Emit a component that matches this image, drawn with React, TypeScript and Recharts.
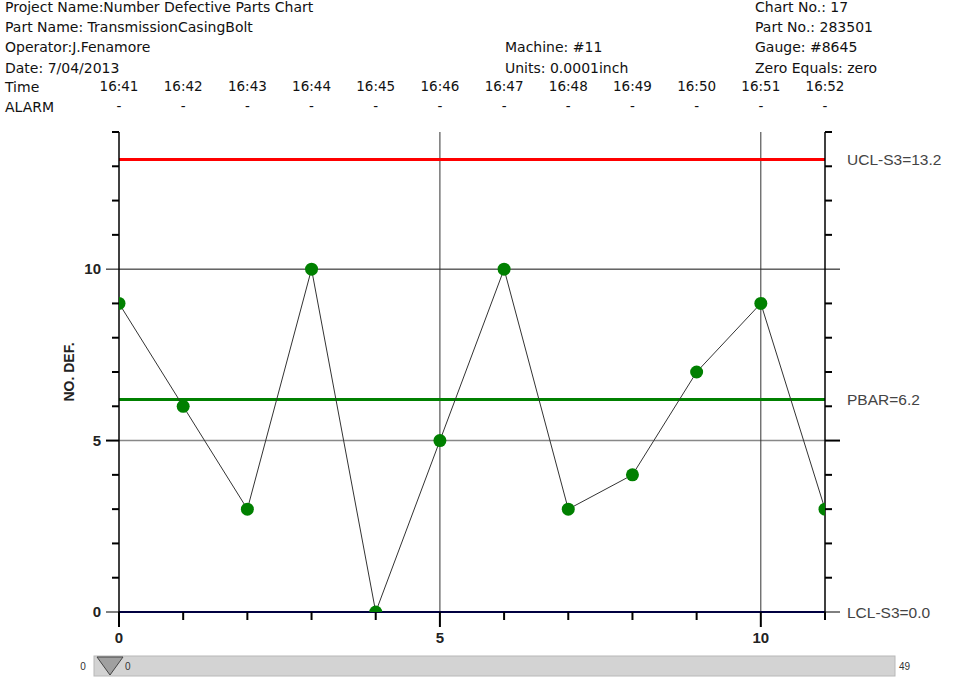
import React from 'react';
import { ComposedChart, Line, XAxis, YAxis, ReferenceLine } from 'recharts';

// sample number vs. number of defective parts
const sampleIndex = [0, 1, 2, 3, 4, 5, 6, 7, 8, 9, 10, 11];
const defectives = [9, 6, 3, 10, 0, 5, 10, 3, 4, 7, 9, 3];
const sampleTimes = ['16:41', '16:42', '16:43', '16:44', '16:45', '16:46', '16:47', '16:48', '16:49', '16:50', '16:51', '16:52'];
const alarmFlags = ['-', '-', '-', '-', '-', '-', '-', '-', '-', '-', '-', '-'];

const UCL = 13.2;
const PBAR = 6.2;
const LCL = 0;

const xTicks = [0, 1, 2, 3, 4, 5, 6, 7, 8, 9, 10, 11];
const yTicks = [0, 1, 2, 3, 4, 5, 6, 7, 8, 9, 10, 11, 12, 13, 14];
const majorTicks = [0, 5, 10];

const headerLeft = [
  'Project Name:Number Defective Parts Chart',
  'Part Name: TransmissionCasingBolt',
  'Operator:J.Fenamore',
  'Date: 7/04/2013',
];
const headerMiddle = ['', '', 'Machine: #11', 'Units: 0.0001inch'];
const headerRight = ['Chart No.: 17', 'Part No.: 283501', 'Gauge: #8645', 'Zero Equals: zero'];

const chartData = sampleIndex.map((x, i) => ({ x, value: defectives[i] }));

const headFont = '"DejaVu Sans", sans-serif';
const axisFont = '"Liberation Sans", Arial, sans-serif';

const LeftTick = (props: any) => {
  const { x, y, payload } = props;
  const v = payload.value;
  const major = majorTicks.includes(v);
  return (
    <g>
      <line x1={x - (major ? 13 : 7)} x2={x} y1={y} y2={y} stroke="#000" strokeWidth={major && v !== 5 ? 1 : 2} />
      {major && (
        <text x={x - 18} y={y} dy={5} textAnchor="end" fontFamily={axisFont} fontWeight="bold" fontSize={15} fill="#222">
          {v}
        </text>
      )}
    </g>
  );
};

const RightTick = (props: any) => {
  const { x, y, payload } = props;
  const v = payload.value;
  const major = majorTicks.includes(v);
  return (
    <g>
      <line x1={x} x2={x + (major ? 15 : 7)} y1={y} y2={y} stroke="#000" strokeWidth={major && v !== 5 ? 1 : 2} />
    </g>
  );
};

const BottomTick = (props: any) => {
  const { x, y, payload } = props;
  const v = payload.value;
  const major = majorTicks.includes(v);
  return (
    <g>
      <line x1={x} x2={x} y1={y} y2={y + (major ? 15 : 8)} stroke="#000" strokeWidth={2} />
      {major && (
        <text x={x} y={y + 31} textAnchor="middle" fontFamily={axisFont} fontWeight="bold" fontSize={15} fill="#222">
          {v}
        </text>
      )}
    </g>
  );
};

const TopTick = (props: any) => {
  const { x, y, payload } = props;
  const i = payload.value;
  return (
    <g fontFamily={headFont} fontSize={13.5} fill="#111">
      <text x={x} y={y - 41} textAnchor="middle">{sampleTimes[i]}</text>
      <text x={x} y={y - 21} textAnchor="middle">{alarmFlags[i]}</text>
    </g>
  );
};

const refLabel = (value: string) => ({
  value,
  position: 'right' as const,
  offset: 22,
  fill: '#444',
  fontSize: 15.5,
  fontFamily: axisFont,
});

export default function App() {
  return (
    <div style={{ position: 'absolute', left: 0, top: 0, width: 979, height: 695, background: '#fff' }}>
      <ComposedChart width={979} height={695} data={chartData} margin={{ top: 92, right: 94, bottom: 53, left: 59 }}>
        <XAxis
          dataKey="x"
          type="number"
          domain={[0, 11]}
          ticks={xTicks}
          interval={0}
          allowDataOverflow
          height={30}
          tickSize={0}
          tickMargin={0}
          tickLine={false}
          axisLine={{ stroke: '#000', strokeWidth: 1 }}
          tick={<BottomTick />}
        />
        <XAxis
          xAxisId="top"
          orientation="top"
          dataKey="x"
          type="number"
          domain={[0, 11]}
          ticks={xTicks}
          interval={0}
          height={40}
          tickSize={0}
          tickMargin={0}
          tickLine={false}
          axisLine={false}
          tick={<TopTick />}
        />
        <YAxis
          yAxisId="left"
          type="number"
          domain={[0, 14]}
          ticks={yTicks}
          interval={0}
          allowDataOverflow
          width={60}
          tickSize={0}
          tickMargin={0}
          tickLine={false}
          axisLine={{ stroke: '#000', strokeWidth: 1.5 }}
          tick={<LeftTick />}
          label={{
            content: ({ viewBox }: any) => (
              <text
                x={viewBox.x + 15}
                y={viewBox.y + viewBox.height / 2}
                transform={`rotate(-90 ${viewBox.x + 15} ${viewBox.y + viewBox.height / 2})`}
                textAnchor="middle"
                fontFamily={axisFont}
                fontWeight="bold"
                fontSize={14}
                fill="#222"
              >
                NO. DEF.
              </text>
            ),
          }}
        />
        <YAxis
          yAxisId="right"
          orientation="right"
          type="number"
          domain={[0, 14]}
          ticks={yTicks}
          interval={0}
          allowDataOverflow
          width={60}
          tickSize={0}
          tickMargin={0}
          tickLine={false}
          axisLine={{ stroke: '#000', strokeWidth: 1.5 }}
          tick={<RightTick />}
        />

        <ReferenceLine yAxisId="left" y={10} stroke="#111" strokeWidth={1} />
        <ReferenceLine yAxisId="left" y={5} stroke="#888" strokeWidth={1.5} />
        <ReferenceLine yAxisId="left" x={5} stroke="#333" strokeWidth={1} />
        <ReferenceLine yAxisId="left" x={10} stroke="#333" strokeWidth={1} />

        <ReferenceLine yAxisId="left" y={UCL} stroke="#ff0000" strokeWidth={3} label={refLabel('UCL-S3=13.2')} />
        <ReferenceLine yAxisId="left" y={PBAR} stroke="#008000" strokeWidth={3} label={refLabel('PBAR=6.2')} />
        <ReferenceLine yAxisId="left" y={LCL} stroke="#000080" strokeWidth={2} label={refLabel('LCL-S3=0.0')} />

        {/* invisible twin so the right axis gets its ticks */}
        <Line
          yAxisId="right"
          dataKey="value"
          stroke="none"
          dot={false}
          activeDot={false}
          legendType="none"
          isAnimationActive={false}
        />
        <Line
          yAxisId="left"
          type="linear"
          dataKey="value"
          stroke="#333"
          strokeWidth={1}
          dot={{ r: 6.5, fill: '#008000', stroke: '#008000', strokeWidth: 0 }}
          activeDot={false}
          isAnimationActive={false}
        />
      </ComposedChart>

      <svg width={979} height={695} style={{ position: 'absolute', left: 0, top: 0, pointerEvents: 'none' }}>
        <g fontFamily={headFont} fontSize={14} fill="#111">
          {headerLeft.map((t, i) => (
            <text key={'l' + i} x={5} y={12 + i * 20.2}>{t}</text>
          ))}
          {headerMiddle.map((t, i) => (
            <text key={'m' + i} x={505} y={12 + i * 20.2}>{t}</text>
          ))}
          {headerRight.map((t, i) => (
            <text key={'r' + i} x={755} y={12 + i * 20.2}>{t}</text>
          ))}
          <text x={5} y={92}>Time</text>
          <text x={5} y={112}>ALARM</text>
        </g>
        <g fontFamily={axisFont} fontSize={10} fill="#333">
          <rect x={94} y={656} width={801} height={20} fill="#d3d3d3" stroke="#b8b8b8" />
          <polygon points="97,657 123,657 110,675" fill="#a0a0a0" stroke="#444" strokeWidth={1} />
          <text x={83} y={670} textAnchor="middle">0</text>
          <text x={125} y={670}>0</text>
          <text x={899} y={670}>49</text>
        </g>
      </svg>
    </div>
  );
}
